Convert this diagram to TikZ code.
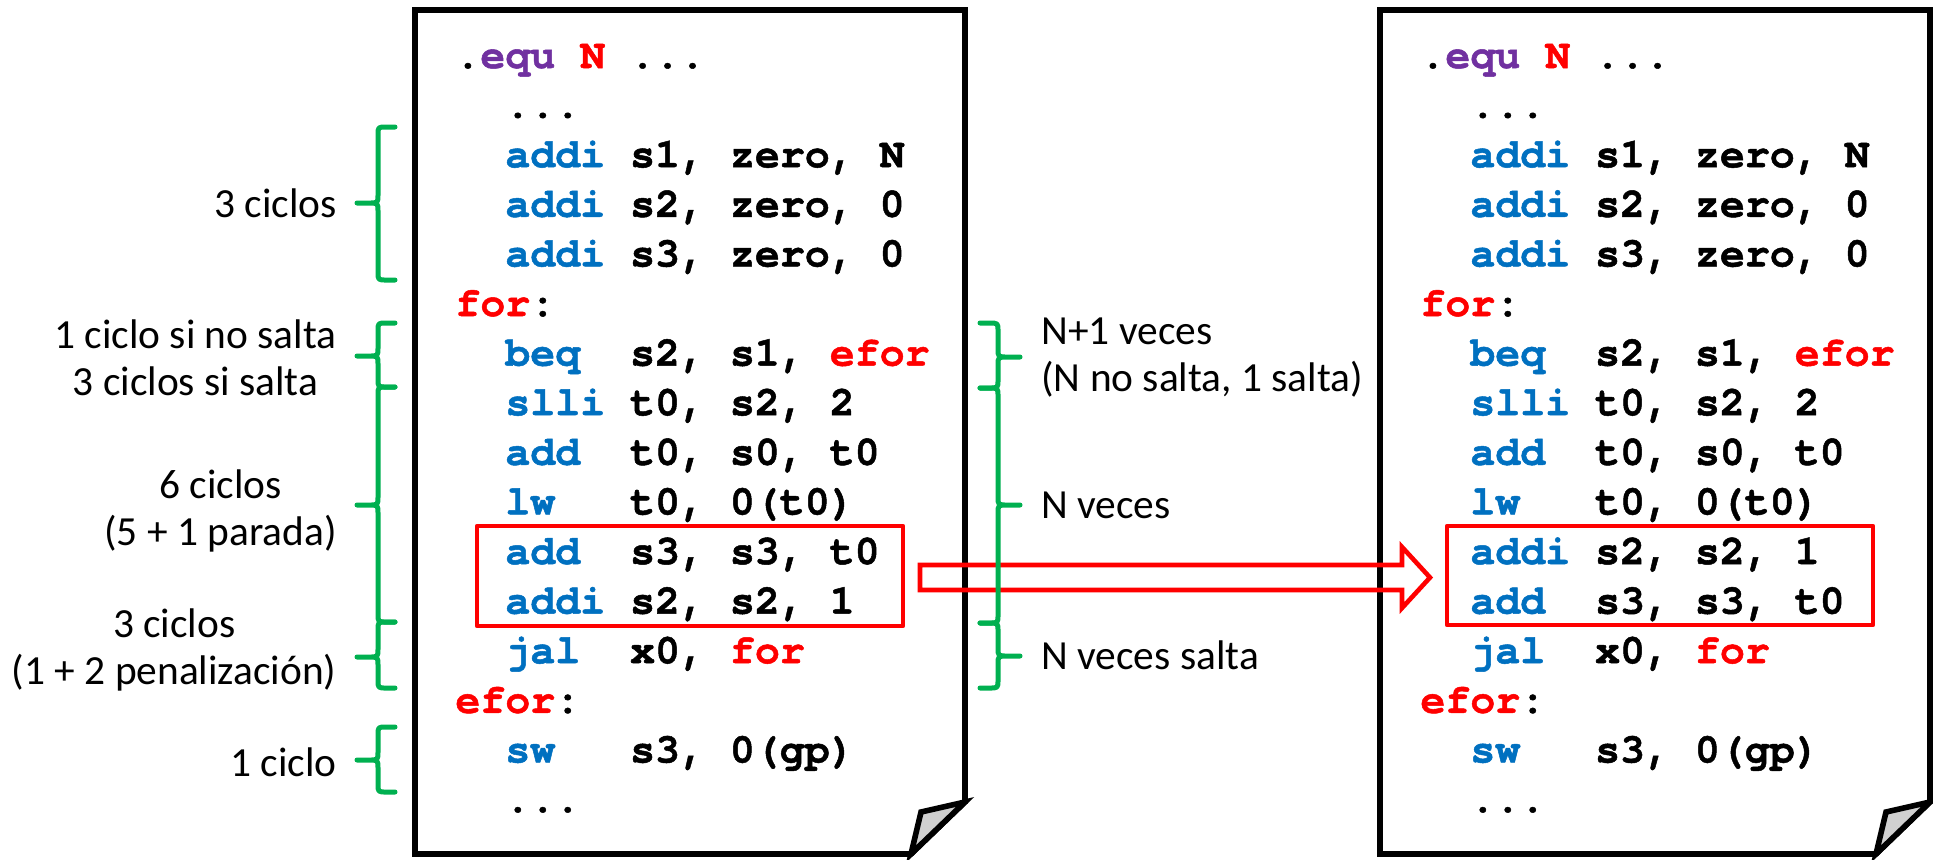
\documentclass[tikz,border=0pt]{standalone}
\usepackage{fontspec}
\newfontfamily\codefont{TeX Gyre Cursor}[WordSpace={1,0,0},BoldFeatures={FakeBold=1.2}]
\newfontfamily\labfont{Carlito}
\definecolor{cblue}{HTML}{0070C0}
\definecolor{cred}{HTML}{FF0000}
\definecolor{cpur}{HTML}{7030A0}
\definecolor{cgreen}{HTML}{00B050}
\definecolor{cfold}{HTML}{D0D0D0}
\newcommand\kw[1]{\textcolor{cblue}{#1}}
\newcommand\lb[1]{\textcolor{cred}{#1}}
\newcommand\GBrace[6]{%
  \draw[gbr] (#1,#4) -- ({#2+0.5*(#1-#2)},#4) .. controls (#2,#4) .. (#2,{#4+8})
    -- (#2,{#5-8}) .. controls (#2,#5) .. ({#2+0.45*(#3-#2)},#5) -- (#3,#5)
    ({#2+0.45*(#3-#2)},#5) .. controls (#2,#5) .. (#2,{#5+8})
    -- (#2,{#6-8}) .. controls (#2,#6) .. ({#2+0.5*(#1-#2)},#6) -- (#1,#6);}
\begin{document}
\begin{tikzpicture}[x=0.5pt,y=-0.5pt,
  page/.style={draw=black,line width=2.8pt,fill=white},
  fold/.style={draw=black,line width=2.8pt,fill=cfold},
  gbr/.style={draw=cgreen,line width=2.5pt,line cap=round,line join=round},
  redbox/.style={draw=cred,line width=2.3pt,line join=round},
  redarrow/.style={draw=cred,line width=2.3pt},
  code/.style={font=\codefont\bfseries\fontsize{20.8}{24.8}\selectfont,inner sep=0pt,anchor=base west},
  lab/.style={font=\labfont\fontsize{20.7}{23.5}\selectfont,inner sep=0pt}]
\useasboundingbox (0,0) rectangle (1933,859);
\fill[white] (0,0) rectangle (1933,859);
% pages
\draw[page] (415,10) -- (965,10) -- (965,802) -- (911,854) -- (415,854) -- cycle;
\draw[fold] (911,854) -- (921,812) -- (965,802) -- cycle;
\draw[page] (1380,10) -- (1930,10) -- (1930,802) -- (1876,854) -- (1380,854) -- cycle;
\draw[fold] (1876,854) -- (1886,812) -- (1930,802) -- cycle;
% left code
\foreach \i/\t in {1/{.\textcolor{cpur}{equ} \lb{N} ...},
  2/{~~...},
  3/{~~\kw{addi} s1, zero, N},
  4/{~~\kw{addi} s2, zero, 0},
  5/{~~\kw{addi} s3, zero, 0},
  6/{\lb{for}:},
  7/{~~\kw{beq}~~s2, s1, \lb{efor}},
  8/{~~\kw{slli} t0, s2, 2},
  9/{~~\kw{add}~~t0, s0, t0},
  10/{~~\kw{lw}~~~t0, 0(t0)},
  11/{~~\kw{add}~~s3, s3, t0},
  12/{~~\kw{addi} s2, s2, 1},
  13/{~~\kw{jal}~~x0, \lb{for}},
  14/{\lb{efor}:},
  15/{~~\kw{sw}~~~s3, 0(gp)},
  16/{~~...}}
  \node[code] (L\i) at (455,{68+49.6*(\i-1)}) {\t};
% right code
\foreach \i/\t in {1/{.\textcolor{cpur}{equ} \lb{N} ...},
  2/{~~...},
  3/{~~\kw{addi} s1, zero, N},
  4/{~~\kw{addi} s2, zero, 0},
  5/{~~\kw{addi} s3, zero, 0},
  6/{\lb{for}:},
  7/{~~\kw{beq}~~s2, s1, \lb{efor}},
  8/{~~\kw{slli} t0, s2, 2},
  9/{~~\kw{add}~~t0, s0, t0},
  10/{~~\kw{lw}~~~t0, 0(t0)},
  11/{~~\kw{addi} s2, s2, 1},
  12/{~~\kw{add}~~s3, s3, t0},
  13/{~~\kw{jal}~~x0, \lb{for}},
  14/{\lb{efor}:},
  15/{~~\kw{sw}~~~s3, 0(gp)},
  16/{~~...}}
  \node[code] (R\i) at (1420,{68+49.6*(\i-1)}) {\t};
% red boxes
\draw[redbox] (477,526) rectangle (903,626);
\draw[redbox] (1447,526) rectangle (1873,625);
% hollow arrow
\coordinate (aS) at (920,577.5);
\coordinate (aE) at (1430,577.5);
\draw[redarrow] (aS) ++(0,-12.5) -- (1402,565) -- (1402,547) -- (aE) -- (1402,608) -- (1402,590) -- (920,590) -- cycle;
% left braces
\GBrace{395}{378}{357}{127}{203}{280}
\GBrace{395}{378}{357}{323}{356}{387}
\GBrace{395}{378}{357}{387}{505}{622}
\GBrace{395}{378}{357}{622}{657}{688}
\GBrace{395}{378}{357}{727}{760}{792}
% right braces
\GBrace{980}{998}{1020}{323}{357}{388}
\GBrace{980}{998}{1020}{388}{505}{623}
\GBrace{980}{998}{1020}{623}{656}{688}
% left labels
\node[lab,anchor=east,align=center] (c1) at (337,203) {3 ciclos};
\node[lab,anchor=east,align=center] (c2) at (337,358) {1 ciclo si no salta\\3 ciclos si salta};
\node[lab,anchor=east,align=center] (c3) at (337,511) {6 ciclos\\(5 + 1 parada)};
\node[lab,anchor=east,align=center] (c4) at (337,650) {3 ciclos\\(1 + 2 penalización)};
\node[lab,anchor=east,align=center] (c5) at (337,762) {1 ciclo};
% right labels
\node[lab,anchor=west,align=left] (d1) at (1041,358) {N+1 veces\\(N no salta, 1 salta)};
\node[lab,anchor=west,align=left] (d2) at (1041,505) {N veces};
\node[lab,anchor=west,align=left] (d3) at (1041,655) {N veces salta};
\end{tikzpicture}
\end{document}
